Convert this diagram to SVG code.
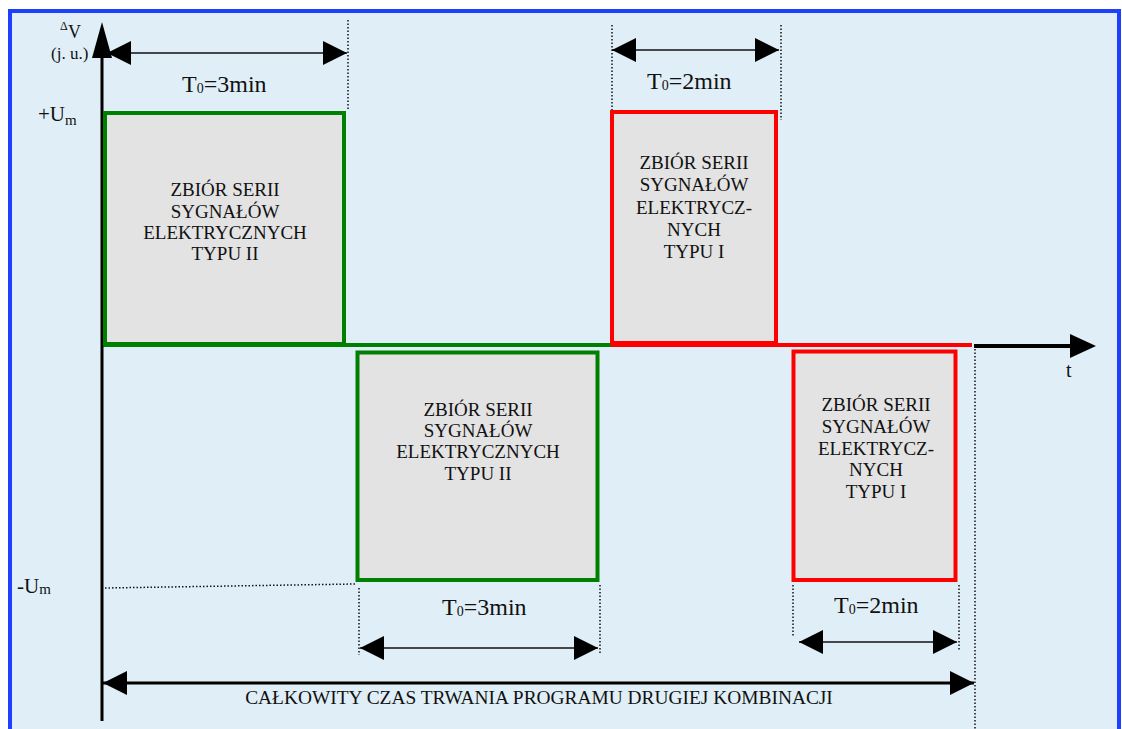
<svg xmlns="http://www.w3.org/2000/svg" width="1122" height="729" viewBox="0 0 1122 729">
<style>
.t{font-family:"Liberation Serif","Times New Roman",serif;fill:#111}
.bx{font-size:19px;text-anchor:middle}
.dot{fill:none;stroke:#111;stroke-width:1.5;stroke-dasharray:1.5 2}
.ar{fill:none;stroke:#111;stroke-width:1.6}
.g{fill:#E3E3E3;stroke:#008000;stroke-width:4}
.r{fill:#E3E3E3;stroke:#FF0000;stroke-width:4}
</style>
<defs>
<marker id="ah" markerUnits="userSpaceOnUse" markerWidth="24" markerHeight="24" viewBox="0 0 24 24" refX="24" refY="12" orient="auto-start-reverse">
<path d="M0,0 L24,12 L0,24 z" fill="#000"/>
</marker>
</defs>
<rect x="10" y="11" width="1109" height="740" fill="#E0EFF7" stroke="#1F3FFF" stroke-width="4"/>

<g id="connectors">
<line x1="611" y1="345" x2="972" y2="345" stroke="#FF0000" stroke-width="4"/>
<line x1="103" y1="345" x2="611" y2="345" stroke="#008000" stroke-width="4"/>
<line x1="102" y1="50" x2="102" y2="721" stroke="#000" stroke-width="3"/>
<polygon points="102,22 112,58 92,58" fill="#000"/>
<line x1="974" y1="346" x2="1072" y2="346" stroke="#000" stroke-width="4"/>
<polygon points="1096,346 1070,334 1070,358" fill="#000"/>
<path class="dot" d="M348,20 V110"/>
<path class="dot" d="M612,25 V112"/>
<path class="dot" d="M781,25 V120"/>
<path class="dot" d="M105,588 L355,584"/>
<path class="dot" d="M359,588 V655"/>
<path class="dot" d="M600,585 V655"/>
<path class="dot" d="M793,585 V637"/>
<path class="dot" d="M959,585 V650"/>
<path class="dot" d="M975,349 V729"/>
<line class="ar" x1="107" y1="53" x2="347" y2="53" marker-start="url(#ah)" marker-end="url(#ah)"/>
<line class="ar" x1="612" y1="50" x2="779" y2="50" marker-start="url(#ah)" marker-end="url(#ah)"/>
<line class="ar" x1="360" y1="648" x2="598" y2="648" marker-start="url(#ah)" marker-end="url(#ah)"/>
<line class="ar" x1="799" y1="642" x2="957" y2="642" marker-start="url(#ah)" marker-end="url(#ah)"/>
<line x1="103" y1="683" x2="974" y2="683" stroke="#000" stroke-width="3" marker-start="url(#ah)" marker-end="url(#ah)"/>
</g>

<g id="box1">
<rect class="g" x="105" y="113" width="239" height="231"/>
<text class="t bx" x="225"><tspan x="225" y="196">ZBIÓR SERII</tspan><tspan x="225" y="218">SYGNAŁÓW</tspan><tspan x="225" y="239">ELEKTRYCZNYCH</tspan><tspan x="225" y="260">TYPU II</tspan></text>
</g>
<g id="box2">
<rect class="g" x="357.5" y="352.5" width="240" height="227.5"/>
<text class="t bx" x="478"><tspan x="478" y="416">ZBIÓR SERII</tspan><tspan x="478" y="437">SYGNAŁÓW</tspan><tspan x="478" y="458">ELEKTRYCZNYCH</tspan><tspan x="478" y="480">TYPU II</tspan></text>
</g>
<g id="box3">
<rect class="r" x="612" y="112" width="164" height="231"/>
<text class="t bx" x="694"><tspan x="694" y="169">ZBIÓR SERII</tspan><tspan x="694" y="191">SYGNAŁÓW</tspan><tspan x="694" y="214">ELEKTRYCZ-</tspan><tspan x="694" y="236">NYCH</tspan><tspan x="694" y="258">TYPU I</tspan></text>
</g>
<g id="box4">
<rect class="r" x="793.5" y="351.5" width="162" height="228.5"/>
<text class="t bx" x="876"><tspan x="876" y="411">ZBIÓR SERII</tspan><tspan x="876" y="433">SYGNAŁÓW</tspan><tspan x="876" y="455">ELEKTRYCZ-</tspan><tspan x="876" y="476">NYCH</tspan><tspan x="876" y="498">TYPU I</tspan></text>
</g>

<g id="labels">
<text class="t" x="60" y="30" font-size="12">Δ</text>
<text class="t" x="68" y="38" font-size="18">V</text>
<text class="t" x="51" y="59" font-size="17">(j. u.)</text>
<text class="t" x="38" y="121" font-size="21">+U<tspan font-size="15" dy="4">m</tspan></text>
<text class="t" x="17" y="593" font-size="21">-U<tspan font-size="15" dy="1">m</tspan></text>
<text class="t" x="1066" y="377" font-size="20">t</text>
<text class="t" x="182" y="92" font-size="24">T<tspan font-size="14" dy="1">0</tspan><tspan dy="-1">=3min</tspan></text>
<text class="t" x="647" y="89" font-size="24">T<tspan font-size="14" dy="1">0</tspan><tspan dy="-1">=2min</tspan></text>
<text class="t" x="442" y="615" font-size="24">T<tspan font-size="14" dy="1">0</tspan><tspan dy="-1">=3min</tspan></text>
<text class="t" x="834" y="613" font-size="24">T<tspan font-size="14" dy="1">0</tspan><tspan dy="-1">=2min</tspan></text>
<text class="t" x="539" y="704" font-size="19.4" text-anchor="middle">CAŁKOWITY CZAS TRWANIA PROGRAMU DRUGIEJ KOMBINACJI</text>
</g>
</svg>
